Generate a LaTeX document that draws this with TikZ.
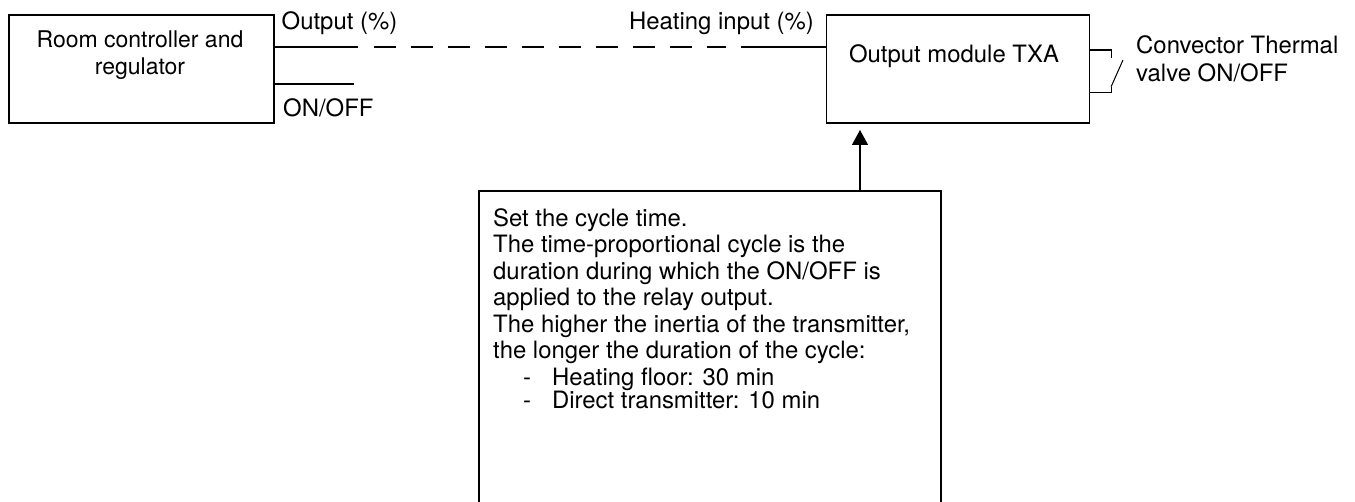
\documentclass[tikz,border=0pt]{standalone}
\usepackage{fontspec}
\setmainfont{TeX Gyre Heros}
\usetikzlibrary{arrows.meta,calc}
\tikzset{
  x=1pt,y=-1pt,
  boxn/.style={draw=black,line width=1.6pt,inner sep=0pt,anchor=north west,align=center},
  wire/.style={draw=black,line width=1.4pt},
  thin wire/.style={draw=black,line width=1pt},
  lbl/.style={inner sep=0pt,anchor=base west,align=left},
}
\newcommand{\txt}{\fontsize{23.9}{26.5}\selectfont}
\newcommand{\txtroom}{\fontsize{23}{26.3}\selectfont}
\begin{document}
\begin{tikzpicture}[every node/.append style={font=\txt}]
\useasboundingbox (0,0) rectangle (1355,502);
\node[boxn,minimum width=265pt,minimum height=108pt] (room) at (8,14.2) {};
\node[inner sep=0pt,align=center,font=\txtroom] (roomtext) at (140,55) {Room controller and\\regulator};
\node[boxn,minimum width=263pt,minimum height=108pt] (txa) at (825.5,14.2) {};
\node[inner sep=0pt,anchor=base] (txatext) at (954,62.7) {Output module TXA};
\node[boxn,minimum width=462pt,minimum height=316pt] (cycle) at (478,190) {};
\node[lbl,anchor=north west] (cycletext) at (493,208) {Set the cycle time.\\
The time-proportional cycle is the\\
duration during which the ON/OFF is\\
applied to the relay output.\\
The higher the inertia of the transmitter,\\
the longer the duration of the cycle:\\
\hspace*{30pt}-\hspace*{21pt}Heating floor: 30 min\\[-3pt]
\hspace*{30pt}-\hspace*{21pt}Direct transmitter: 10 min};
\node[lbl] (outl) at (281.5,30) {Output (\%)};
\node[lbl] (onoffl) at (283,117) {ON/OFF};
\node[lbl,anchor=base east] (heatl) at (814,30) {Heating input (\%)};
\node[lbl] (convl) at (1136,54) {Convector Thermal};
\node[lbl] (valvel) at (1136,81.5) {valve ON/OFF};
% connectors
\coordinate (outw) at (room.north east |- 0,47);
\coordinate (inw) at (txa.north west |- 0,47);
\draw[wire] (outw) -- ++(83,0);
\draw[wire] (inw) -- ++(-85,0);
\draw[wire,dash pattern=on 22pt off 15pt] ($(outw)+(99,0)$) -- ($(inw)+(-100,0)$);
\coordinate (onw) at (room.north east |- 0,84);
\draw[wire] ($(onw)+(-2,0)$) -- ++(81,0);
\coordinate (arrowtip) at (860,130);
\draw[wire,-{Triangle[length=15pt,width=16pt]}] (cycle.north west -| arrowtip) -- (arrowtip);
\coordinate (sa) at (txa.north east |- 0,50);
\coordinate (sb) at (txa.north east |- 0,92.7);
\draw[wire,line width=1.2pt] (sa) -- ++(21,0) -- ++(0,8);
\draw[wire,line width=1.2pt] (sb) -- ++(21,0) -- ++(0,-6);
\draw[thin wire] ($(sb)+(21,-6)$) -- (1123,60);
\end{tikzpicture}
\end{document}
